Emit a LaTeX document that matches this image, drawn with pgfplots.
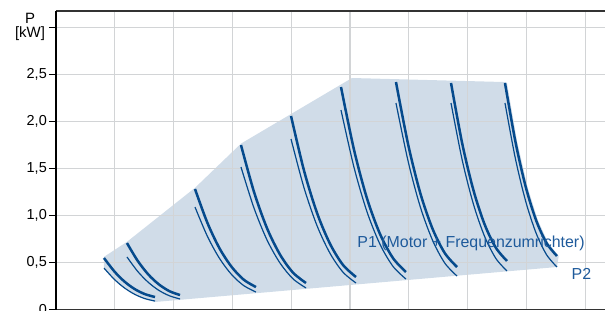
\documentclass[border=0pt]{standalone}
\usepackage{pgfplots}
\pgfplotsset{compat=1.18}
\usepackage{fontspec}
\setmainfont{Liberation Sans}
\definecolor{curve}{RGB}{5,74,140}
\definecolor{txtblue}{RGB}{30,90,155}
\definecolor{area}{RGB}{208,220,232}
\definecolor{gridc}{RGB}{210,212,214}
\begin{document}
\begin{tikzpicture}
\begin{axis}[
  set layers,
  at={(0,0)}, anchor=south west,
  scale only axis,
  width=558.6bp, height=298.5bp,
  xmin=0, xmax=9.5, ymin=0, ymax=3.176,
  xtick={1,2,3,4,5,6,7,8,9}, xticklabels={},
  ytick={0,0.5,1,1.5,2,2.5,3},
  yticklabels={0,{0,5},{1,0},{1,5},{2,0},{2,5},{}},
  grid=major,
  major grid style={gridc, line width=1.3bp},
  tick align=outside,
  major tick length=7bp,
  xtick style={draw=none},
  ytick style={black, line width=1.5bp},
  separate axis lines,
  x axis line style={black!80, line width=1.3bp},
  y axis line style={black, line width=2bp},
  yticklabel style={font=\fontsize{14.5}{15}\selectfont, black, inner sep=2bp},
  clip=false,
]
% operating area
\addplot[draw=none, fill=area, on layer=axis background] coordinates {
(0.816,0.560) (1.207,0.720) (2.364,1.295) (3.146,1.765) (5.034,2.463) (7.636,2.420)
(7.670,2.410) (7.843,1.786) (8.020,1.302) (8.196,0.948) (8.373,0.707) (8.550,0.569) (8.520,0.452)
(1.684,0.080) (1.510,0.116) (1.337,0.162) (1.163,0.230) (0.990,0.322) (0.816,0.441)
} -- cycle;

% P1 curves (thick)
\addplot[curve, line width=2.5bp, smooth] coordinates {(0.816,0.548) (0.990,0.407) (1.163,0.298) (1.337,0.218) (1.510,0.164) (1.684,0.133)};
\addplot[curve, line width=2.5bp, smooth] coordinates {(1.207,0.707) (1.387,0.520) (1.568,0.374) (1.748,0.268) (1.929,0.195) (2.109,0.154)};
\addplot[curve, line width=2.5bp, smooth] coordinates {(2.364,1.282) (2.571,0.928) (2.778,0.654) (2.986,0.454) (3.193,0.317) (3.401,0.239)};
\addplot[curve, line width=2.5bp, smooth] coordinates {(3.146,1.750) (3.367,1.252) (3.588,0.866) (3.810,0.584) (4.031,0.392) (4.252,0.282)};
\addplot[curve, line width=2.5bp, smooth] coordinates {(3.997,2.059) (4.218,1.478) (4.439,1.028) (4.660,0.699) (4.881,0.474) (5.102,0.346)};
\addplot[curve, line width=2.5bp, smooth] coordinates {(4.847,2.367) (5.068,1.700) (5.289,1.182) (5.510,0.804) (5.731,0.547) (5.952,0.399)};
\addplot[curve, line width=2.5bp, smooth] coordinates {(5.782,2.420) (5.990,1.753) (6.197,1.235) (6.405,0.857) (6.612,0.600) (6.820,0.452)};
\addplot[curve, line width=2.5bp, smooth] coordinates {(6.718,2.410) (6.908,1.768) (7.099,1.270) (7.289,0.906) (7.480,0.658) (7.670,0.516)};
\addplot[curve, line width=2.5bp, smooth] coordinates {(7.636,2.410) (7.813,1.786) (7.990,1.302) (8.166,0.948) (8.343,0.707) (8.520,0.569)};

% P2 curves (thin)
\addplot[curve, line width=1.2bp, smooth] coordinates {(0.816,0.441) (0.990,0.322) (1.163,0.230) (1.337,0.162) (1.510,0.116) (1.684,0.090)};
\addplot[curve, line width=1.2bp, smooth] coordinates {(1.207,0.559) (1.387,0.407) (1.568,0.290) (1.748,0.204) (1.929,0.146) (2.109,0.112)};
\addplot[curve, line width=1.2bp, smooth] coordinates {(2.364,1.090) (2.571,0.784) (2.778,0.546) (2.986,0.372) (3.193,0.254) (3.401,0.186)};
\addplot[curve, line width=1.2bp, smooth] coordinates {(3.146,1.516) (3.367,1.080) (3.588,0.741) (3.810,0.494) (4.031,0.326) (4.252,0.229)};
\addplot[curve, line width=1.2bp, smooth] coordinates {(3.997,1.814) (4.218,1.295) (4.439,0.892) (4.660,0.598) (4.881,0.397) (5.102,0.282)};
\addplot[curve, line width=1.2bp, smooth] coordinates {(4.847,2.122) (5.068,1.513) (5.289,1.040) (5.510,0.694) (5.731,0.459) (5.952,0.324)};
\addplot[curve, line width=1.2bp, smooth] coordinates {(5.782,2.197) (5.990,1.573) (6.197,1.089) (6.405,0.735) (6.612,0.494) (6.820,0.356)};
\addplot[curve, line width=1.2bp, smooth] coordinates {(6.718,2.197) (6.908,1.591) (7.099,1.121) (7.289,0.778) (7.480,0.544) (7.670,0.410)};
\addplot[curve, line width=1.2bp, smooth] coordinates {(7.636,2.197) (7.813,1.605) (7.990,1.147) (8.166,0.811) (8.343,0.583) (8.520,0.452)};

\node[txtblue, font=\fontsize{16}{16}\selectfont, inner sep=0] at (axis cs:7.058,0.707) {P1 (Motor + Frequenzumrichter)};
\node[txtblue, font=\fontsize{16}{16}\selectfont, inner sep=0] at (axis cs:8.937,0.378) {P2};
\node[align=center, font=\fontsize{15}{14}\selectfont, inner sep=0] at (axis cs:-0.442,3.01) {P\\{[kW]}};
\end{axis}
\pgfresetboundingbox
\useasboundingbox (-56bp,-1.5bp) rectangle (549bp,309.5bp);
\end{tikzpicture}
\end{document}
